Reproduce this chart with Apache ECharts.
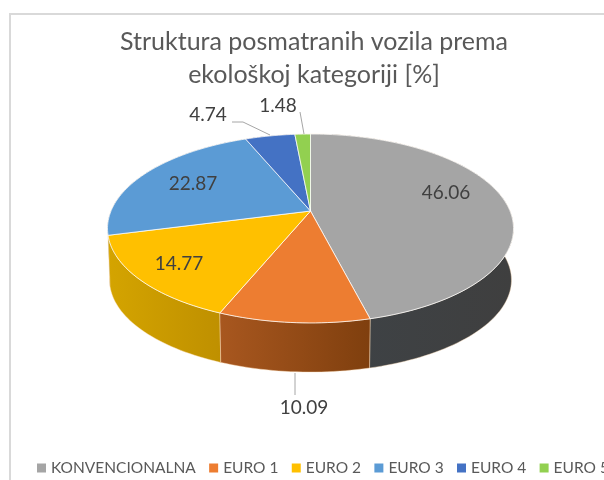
<!DOCTYPE html>
<html>
<head>
<meta charset="utf-8">
<title>Struktura posmatranih vozila</title>
<style>
html, body { margin: 0; padding: 0; background: #fff; overflow: hidden; }
#main { width: 604px; height: 480px; }
</style>
<script src="https://cdn.jsdelivr.net/npm/echarts@6/dist/echarts.min.js"></script>
</head>
<body>
<div id="main"></div>
<script>
var categories = ['KONVENCIONALNA', 'EURO 1', 'EURO 2', 'EURO 3', 'EURO 4', 'EURO 5'];
var shares = [46.06, 10.09, 14.77, 22.87, 4.74, 1.48];
var titleText = 'Struktura posmatranih vozila prema\nekološkoj kategoriji [%]';

var topColors = ['#a5a5a5', '#ed7d31', '#ffc000', '#5b9bd5', '#4472c4', '#92d050'];
var sideFrom = ['#3e4347', '#a8571f', '#d4a400', '#3d6f9e', '#2e4f8a', '#66943a'];
var sideTo = ['#3f3f3f', '#7f3f0e', '#bf9000', '#3d6f9e', '#2e4f8a', '#66943a'];

// where excel left the value labels, and the leader lines for the outside ones
var labelPos = [[446, 193], [304, 408], [179, 264], [193, 184], [208, 115], [278, 106]];
var leaders = [null, [[295, 373], [295, 395]], null, null, [[232, 122], [243, 122], [270, 135]], [[300, 112], [304, 134]]];

// tilted disc: perspective projection of the unit circle
var tilt = 0.185;
var topDisc = { x: 310.5, y: 211, rx: 199.5, ry: 91.2 };
var baseDisc = { x: 310.5, y: 263, rx: 197.5, ry: 88.9 };

function project(disc, turn, r) {
    var a = turn * 2 * Math.PI;
    var u = Math.sin(a) * r;
    var v = -Math.cos(a) * r;
    var w = 1 - tilt * v;
    return [disc.x + disc.rx * u / w, disc.y + disc.ry * v / w];
}

function arc(disc, from, to) {
    var pts = [];
    var n = Math.max(2, Math.ceil((to - from) * 240));
    for (var i = 0; i <= n; i++) {
        pts.push(project(disc, from + (to - from) * i / n, 1));
    }
    return pts;
}

var total = 0;
for (var t = 0; t < shares.length; t++) total += shares[t];

function renderSlice(params, api) {
    var idx = params.seriesIndex;
    var start = api.value(0) / total;
    var end = start + api.value(1) / total;
    var topArc = arc(topDisc, start, end);
    var baseArc = arc(baseDisc, start, end);
    var xs = topArc.map(function (p) { return p[0]; });
    // walls nearer the viewer go over the ones behind them
    var nearness = -Math.cos((start + end) * Math.PI);

    var children = [{
        type: 'polygon',
        z2: Math.round(5 + 4 * nearness),
        shape: { points: topArc.concat(baseArc.slice().reverse()) },
        style: {
            fill: new echarts.graphic.LinearGradient(Math.min.apply(null, xs), 0, Math.max.apply(null, xs), 0, [
                { offset: 0, color: sideFrom[idx] },
                { offset: 1, color: sideTo[idx] }
            ], true),
            stroke: 'rgba(255,225,190,0.55)',
            lineWidth: 0.8
        }
    }, {
        type: 'polygon',
        z2: 10,
        shape: { points: [[topDisc.x, topDisc.y]].concat(topArc) },
        style: { fill: topColors[idx], stroke: 'rgba(255,255,255,0.75)', lineWidth: 1 }
    }, {
        type: 'text',
        z2: 12,
        style: {
            x: labelPos[idx][0],
            y: labelPos[idx][1],
            text: api.value(1).toFixed(2),
            fill: '#404040',
            font: '19px Lato',
            align: 'center',
            verticalAlign: 'middle'
        }
    }];

    if (leaders[idx]) {
        children.push({
            type: 'polyline',
            z2: 11,
            shape: { points: leaders[idx] },
            style: { fill: 'none', stroke: '#a6a6a6', lineWidth: 1 }
        });
    }
    return { type: 'group', children: children };
}

var seriesList = [];
var running = 0;
for (var i = 0; i < categories.length; i++) {
    seriesList.push({
        type: 'custom',
        name: categories[i],
        coordinateSystem: 'none',
        silent: true,
        renderItem: renderSlice,
        encode: { tooltip: 1 },
        data: [[running, shares[i]]]
    });
    running += shares[i];
}

var myChart = echarts.init(document.getElementById('main'));
myChart.setOption({
    animation: false,
    backgroundColor: '#fff',
    color: topColors,
    title: {
        text: titleText,
        left: 309,
        top: 20,
        textAlign: 'center',
        textStyle: { color: '#595959', fontFamily: 'Lato', fontSize: 25, fontWeight: 'normal', lineHeight: 33 }
    },
    legend: {
        data: categories,
        left: 37,
        top: 460,
        width: 900,
        padding: 0,
        icon: 'rect',
        itemWidth: 9,
        itemHeight: 9,
        itemGap: 13.3,
        selectedMode: false,
        textStyle: { color: '#595959', fontFamily: 'Lato', fontSize: 15.5 }
    },
    graphic: [{
        type: 'rect',
        silent: true,
        z: -1,
        shape: { x: 10, y: 14, width: 800, height: 700 },
        style: { fill: '#fff', stroke: '#d9d9d9', lineWidth: 2 }
    }],
    series: seriesList
});
</script>
</body>
</html>
